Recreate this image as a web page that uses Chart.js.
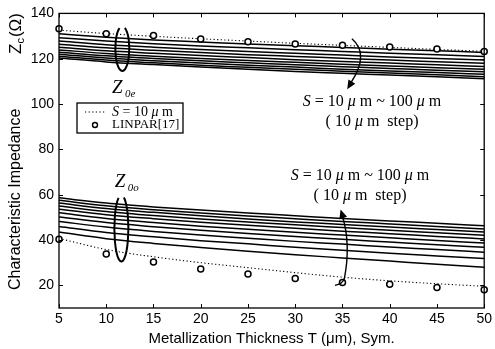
<!DOCTYPE html>
<html><head><meta charset="utf-8">
<script src="https://cdn.jsdelivr.net/npm/chart.js@4.4.0/dist/chart.umd.min.js"></script>
<style>html,body{margin:0;padding:0;background:#fff}#wrap{width:495px;height:349px;position:relative}</style>
</head><body><div id="wrap"><canvas id="c" width="495" height="349"></canvas></div>
<script>
// ---- data ----
const thickness = [5, 10, 15, 20, 25, 30, 35, 40, 45, 50];
const xTicks = [5, 10, 15, 20, 25, 30, 35, 40, 45, 50];
const yTicks = [20, 40, 60, 80, 100, 120, 140];

// even-mode impedance Z0e, S = 10 ... 100 um
const z0eS10  = [131.0, 129.5, 128.3, 127.4, 126.5, 125.7, 125.0, 124.2, 123.5, 122.8];
const z0eS20  = [129.3, 127.8, 126.6, 125.6, 124.8, 124.0, 123.2, 122.4, 121.7, 121.0];
const z0eS30  = [127.8, 126.2, 125.1, 124.1, 123.2, 122.4, 121.6, 120.8, 120.1, 119.4];
const z0eS40  = [126.4, 124.8, 123.7, 122.7, 121.8, 121.0, 120.2, 119.4, 118.7, 118.0];
const z0eS50  = [125.1, 123.5, 122.4, 121.4, 120.5, 119.6, 118.8, 118.1, 117.3, 116.6];
const z0eS60  = [123.9, 122.3, 121.1, 120.1, 119.2, 118.4, 117.6, 116.8, 116.0, 115.3];
const z0eS70  = [122.9, 121.3, 120.1, 119.1, 118.2, 117.3, 116.5, 115.7, 114.9, 114.2];
const z0eS80  = [122.0, 120.3, 119.1, 118.1, 117.1, 116.3, 115.4, 114.6, 113.9, 113.1];
const z0eS90  = [121.1, 119.4, 118.2, 117.1, 116.2, 115.3, 114.5, 113.7, 112.9, 112.1];
const z0eS100 = [120.3, 118.6, 117.4, 116.3, 115.3, 114.4, 113.6, 112.8, 112.0, 111.2];

// odd-mode impedance Z0o, S = 10 ... 100 um
const z0oS10  = [43.5, 40.6, 38.5, 36.7, 35.0, 33.5, 32.1, 30.7, 29.3, 28.0];
const z0oS20  = [46.0, 43.3, 41.4, 39.7, 38.3, 36.8, 35.5, 34.2, 33.0, 31.8];
const z0oS30  = [48.2, 45.7, 43.8, 42.2, 40.8, 39.4, 38.2, 36.9, 35.8, 34.6];
const z0oS40  = [50.2, 47.7, 45.9, 44.3, 42.9, 41.6, 40.3, 39.1, 37.9, 36.8];
const z0oS50  = [52.0, 49.5, 47.7, 46.1, 44.7, 43.4, 42.2, 41.0, 39.8, 38.7];
const z0oS60  = [53.6, 51.2, 49.4, 47.8, 46.5, 45.2, 43.9, 42.8, 41.6, 40.5];
const z0oS70  = [55.0, 52.6, 50.8, 49.3, 48.0, 46.7, 45.5, 44.3, 43.2, 42.1];
const z0oS80  = [56.3, 53.9, 52.2, 50.7, 49.3, 48.0, 46.9, 45.7, 44.6, 43.5];
const z0oS90  = [57.5, 55.1, 53.4, 51.9, 50.6, 49.4, 48.2, 47.1, 46.0, 44.9];
const z0oS100 = [58.6, 56.3, 54.6, 53.2, 51.9, 50.7, 49.5, 48.4, 47.4, 46.3];

// S = 10 um dotted reference curves and LINPAR[17] points
const dottedEven = [132.6, 131.1, 129.9, 128.8, 127.8, 126.8, 125.9, 125.0, 124.1, 123.3];
const dottedOdd  = [40.7, 35.8, 32.6, 30.0, 27.8, 25.6, 23.6, 22.0, 20.7, 19.6];
const linparEven = [133.2, 131.0, 130.2, 128.7, 127.5, 126.5, 126.0, 125.2, 124.3, 123.2];
const linparOdd  = [40.3, 33.8, 30.3, 27.2, 25.0, 23.0, 21.3, 20.5, 19.0, 18.0];

// ---- build datasets ----
const pts = arr => arr.map((v, i) => ({x: thickness[i], y: v}));
const solidSeries = [z0eS10, z0eS20, z0eS30, z0eS40, z0eS50, z0eS60, z0eS70, z0eS80, z0eS90, z0eS100,
                     z0oS10, z0oS20, z0oS30, z0oS40, z0oS50, z0oS60, z0oS70, z0oS80, z0oS90, z0oS100];
const datasets = [];
solidSeries.forEach(s => datasets.push({
  data: pts(s), borderColor: '#000', borderWidth: 1.5, pointRadius: 0,
  cubicInterpolationMode: 'monotone', fill: false, order: 2
}));
[dottedEven, dottedOdd].forEach(s => datasets.push({
  data: pts(s), borderColor: '#000', borderWidth: 1.1, borderDash: [1.2, 2.4], pointRadius: 0,
  cubicInterpolationMode: 'monotone', fill: false, order: 1
}));
[linparEven, linparOdd].forEach(s => datasets.push({
  data: pts(s), showLine: false, pointRadius: 3, pointBorderWidth: 1.5,
  pointBorderColor: '#000', pointBackgroundColor: '#fff', order: 0, clip: false
}));

const SANS = "'Liberation Sans', Arial, sans-serif";
const SERIF = "'Liberation Serif', 'Times New Roman', serif";

function segText(ctx, segs, cx, y, size) {
  let w = 0;
  segs.forEach(s => { ctx.font = (s.i ? 'italic ' : '') + size + 'px ' + SERIF; w += ctx.measureText(s.t).width; });
  let x = cx - w / 2;
  ctx.textAlign = 'left'; ctx.textBaseline = 'middle';
  segs.forEach(s => { ctx.font = (s.i ? 'italic ' : '') + size + 'px ' + SERIF; ctx.fillText(s.t, x, y); x += ctx.measureText(s.t).width; });
}
function segTextLeft(ctx, segs, x, y, size) {
  ctx.textAlign = 'left'; ctx.textBaseline = 'middle';
  segs.forEach(s => { ctx.font = (s.i ? 'italic ' : '') + size + 'px ' + SERIF; ctx.fillText(s.t, x, y); x += ctx.measureText(s.t).width; });
}
function drawZ(ctx, x, y, sub) {
  ctx.textAlign = 'left'; ctx.textBaseline = 'alphabetic';
  ctx.font = 'italic 19px ' + SERIF; ctx.fillText('Z', x, y);
  ctx.font = 'italic 11px ' + SERIF; ctx.fillText(sub, x + 13, y + 4);
}
function arrowHead(ctx, tx, ty, fx, fy, len, wid) {
  const a = Math.atan2(ty - fy, tx - fx);
  ctx.beginPath();
  ctx.moveTo(tx, ty);
  ctx.lineTo(tx - len * Math.cos(a) + wid * Math.sin(a), ty - len * Math.sin(a) - wid * Math.cos(a));
  ctx.lineTo(tx - len * Math.cos(a) - wid * Math.sin(a), ty - len * Math.sin(a) + wid * Math.cos(a));
  ctx.closePath(); ctx.fill();
}

const decor = {
  id: 'decor',
  afterDraw(chart) {
    const ctx = chart.ctx, a = chart.chartArea, xs = chart.scales.x, ys = chart.scales.y;
    const X = v => xs.getPixelForValue(v), Y = v => ys.getPixelForValue(v);
    ctx.save();
    ctx.strokeStyle = '#000'; ctx.fillStyle = '#000';
    // frame
    ctx.lineWidth = 1.3;
    ctx.strokeRect(a.left, a.top, a.right - a.left, a.bottom - a.top);
    // inward ticks
    ctx.lineWidth = 1;
    ctx.beginPath();
    xTicks.forEach(v => { const px = Math.round(X(v)) + 0.5;
      ctx.moveTo(px, a.bottom); ctx.lineTo(px, a.bottom - 4);
      ctx.moveTo(px, a.top); ctx.lineTo(px, a.top + 4); });
    yTicks.forEach(v => { const py = Math.round(Y(v)) + 0.5;
      ctx.moveTo(a.left, py); ctx.lineTo(a.left + 4, py);
      ctx.moveTo(a.right, py); ctx.lineTo(a.right - 4, py); });
    ctx.stroke();

    // axis titles
    ctx.font = '15px ' + SANS; ctx.textBaseline = 'middle'; ctx.textAlign = 'center';
    ctx.fillText('Metallization Thickness T (\u03bcm), Sym.', (a.left + a.right) / 2, 339);
    ctx.save();
    ctx.translate(16, 0); ctx.rotate(-Math.PI / 2);
    ctx.textAlign = 'left';
    ctx.font = '16px ' + SANS;
    ctx.fillText('Characteristic Impedance', -290, 0);
    ctx.font = '17px ' + SANS; ctx.fillText('Z', -54, 0);
    let zw = ctx.measureText('Z').width;
    ctx.font = '11px ' + SANS; ctx.fillText('c', -54 + zw, 5);
    let cw = ctx.measureText('c').width;
    ctx.font = '17px ' + SANS; ctx.fillText('(\u03a9)', -54 + zw + cw + 1, 0);
    ctx.restore();

    // legend box
    const lx = a.left + 18, ly = 103;
    ctx.lineWidth = 1.3;
    ctx.strokeRect(lx, ly, 106, 30);
    ctx.lineWidth = 1.1; ctx.setLineDash([1.2, 2.4]);
    ctx.beginPath(); ctx.moveTo(lx + 8, ly + 9); ctx.lineTo(lx + 28, ly + 9); ctx.stroke();
    ctx.setLineDash([]);
    ctx.lineWidth = 1.4;
    ctx.beginPath(); ctx.arc(lx + 18, ly + 22, 2.5, 0, Math.PI * 2); ctx.stroke();
    segTextLeft(ctx, [{t:'S', i:true}, {t:' = 10 '}, {t:'\u03bc', i:true}, {t:' m'}], lx + 35, ly + 9, 14);
    segTextLeft(ctx, [{t:'LINPAR[17]'}], lx + 35, ly + 22, 13);

    // Z labels
    drawZ(ctx, X(10.6), Y(114) + 21, '0e');
    drawZ(ctx, X(10.9), Y(60) - 8, '0o');

    // loops
    ctx.lineWidth = 2;
    ctx.beginPath();
    ctx.ellipse(X(11.7), (Y(134.3) + Y(114.6)) / 2, 7, (Y(114.6) - Y(134.3)) / 2, 0, -1.2, 4.3);
    ctx.stroke();
    ctx.beginPath();
    ctx.ellipse(X(11.6), (Y(59.8) + Y(30.5)) / 2, 7, (Y(30.5) - Y(59.8)) / 2, 0, -1.2, 4.3);
    ctx.stroke();

    // arrows
    ctx.lineWidth = 1.4;
    ctx.beginPath();
    ctx.moveTo(X(36.0), Y(128.8));
    ctx.quadraticCurveTo(X(37.9), Y(122), X(35.9), Y(109.5));
    ctx.stroke();
    arrowHead(ctx, X(35.5), Y(106.5), X(36.3), Y(112), 9, 4);
    ctx.beginPath();
    ctx.moveTo(X(34.2), Y(20.0));
    ctx.quadraticCurveTo(X(35.0), Y(20.5), X(35.2), Y(23));
    ctx.quadraticCurveTo(X(35.9), Y(38), X(35.0), Y(50.5));
    ctx.stroke();
    arrowHead(ctx, X(34.8), Y(53.5), X(35.2), Y(48), 9, 4);

    // range texts
    const rng = [{t:'S', i:true}, {t:' = 10 '}, {t:'\u03bc', i:true}, {t:' m ~ 100 '}, {t:'\u03bc', i:true}, {t:' m'}];
    const stp = [{t:'( 10 '}, {t:'\u03bc', i:true}, {t:' m  step)'}];
    ctx.fillStyle = '#000';
    segText(ctx, rng, 372, 102, 16);
    segText(ctx, stp, 372, 122, 16);
    segText(ctx, rng, 360, 176, 16);
    segText(ctx, stp, 360, 196, 16);
    ctx.restore();
  }
};

new Chart(document.getElementById('c'), {
  type: 'line',
  data: { datasets },
  options: {
    responsive: false, animation: false, devicePixelRatio: 1,
    layout: { padding: { left: 0, top: 12, right: 9, bottom: 0 } },
    plugins: { legend: { display: false }, tooltip: { enabled: false } },
    scales: {
      x: {
        type: 'linear', min: 5, max: 50,
        afterFit: s => { s.height = 41; },
        afterBuildTicks: s => { s.ticks = xTicks.map(v => ({value: v})); },
        ticks: { color: '#000', font: { family: SANS, size: 14 }, padding: 3 },
        grid: { display: false, drawTicks: false },
        border: { display: false }
      },
      y: {
        min: 10, max: 140,
        afterFit: s => { s.width = 59; },
        afterBuildTicks: s => { s.ticks = yTicks.map(v => ({value: v})); },
        ticks: { color: '#000', font: { family: SANS, size: 14 }, padding: 5 },
        grid: { display: false, drawTicks: false },
        border: { display: false }
      }
    }
  },
  plugins: [decor]
});
</script></body></html>
